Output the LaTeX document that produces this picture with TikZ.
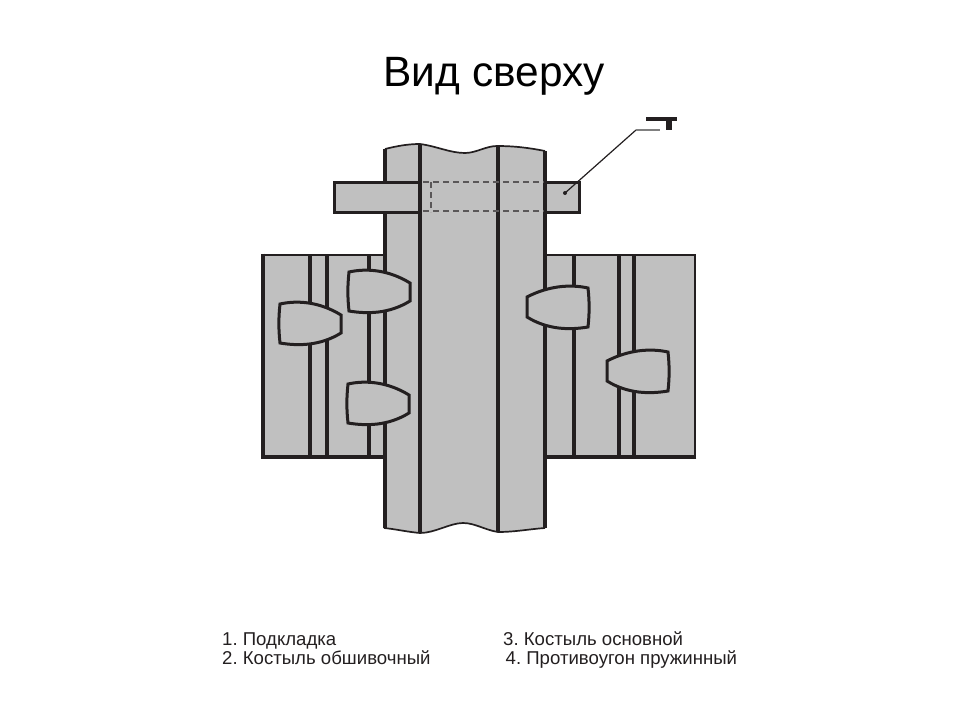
\documentclass[tikz,border=0pt]{standalone}
\usepackage{fontspec}
\setmainfont{Liberation Sans}
\definecolor{partgrey}{HTML}{C0C0C0}
\definecolor{ink}{HTML}{231F20}
\definecolor{leadgrey}{HTML}{808080}
\tikzset{
  rail/.style={draw=ink,line width=3.3pt},
  plate top/.style={draw=ink,line width=2.6pt},
  plate side/.style={draw=ink,line width=3.2pt},
  edge line/.style={draw=ink,line width=1.7pt},
  hidden/.style={draw=ink!75,line width=1.4pt,dash pattern=on 6pt off 4pt},
  spike/.style={fill=partgrey,draw=ink,line width=3pt,line join=miter},
  legend/.style={anchor=base west,inner sep=0pt,font=\fontsize{18.6}{22}\selectfont,text=ink},
  title/.style={anchor=base west,inner sep=0pt,font=\fontsize{42.4}{50}\selectfont,text=black}
}
\newcommand{\headR}[2]{\draw[spike,shift={(#1,#2)}] (0,0) .. controls (18,-4) and (40,-2) .. (61,11) -- (61,29) .. controls (40,42) and (18,42) .. (0,39) .. controls (-1.5,25) and (-1.5,14) .. (0,0) -- cycle;}
\newcommand{\headL}[2]{\draw[spike,shift={(#1,#2)}] (0,0) .. controls (-18,-4) and (-40,-2) .. (-61,9) -- (-61,29) .. controls (-40,42) and (-18,42) .. (0,39) .. controls (1.5,25) and (1.5,14) .. (0,0) -- cycle;}
\begin{document}
\begin{tikzpicture}[x=1pt,y=-1pt]
\useasboundingbox (0,0) rectangle (960,720);
\frenchspacing
\node[title] (heading) at (383.5,86) {Вид сверху};

% side plates
\fill[partgrey] (263,255) rectangle (384,457);
\fill[partgrey] (545,255) rectangle (695,457);
\draw[plate top] (384,255) -- (263,255);
\draw[plate side] (263,253.7) -- (263,458.6);
\draw[plate side] (261.4,457) -- (384,457);
\draw[plate top] (545,255) -- (695,255) -- (695,457);
\draw[plate side] (696.3,457) -- (545,457);
\foreach \x in {310,327,369,574,619,634} \draw[rail] (\x,255) -- (\x,457);

% main strip with wavy ends
\fill[partgrey] (385,149) .. controls (397,146) and (408,144) .. (420,144)
  .. controls (436,146) and (450,153) .. (465,153)
  .. controls (476,153) and (486,146) .. (497,146)
  .. controls (515,146) and (530,148) .. (545,151)
  -- (545,528) .. controls (530,529) and (515,532) .. (498,532)
  .. controls (485,530) and (475,523) .. (463,523)
  .. controls (450,523) and (435,533) .. (420,533)
  .. controls (408,532) and (395,529) .. (384,528) -- cycle;
\draw[edge line] (385,149) .. controls (397,146) and (408,144) .. (420,144)
  .. controls (436,146) and (450,153) .. (465,153)
  .. controls (476,153) and (486,146) .. (497,146)
  .. controls (515,146) and (530,148) .. (545,151);
\draw[edge line] (545,528) .. controls (530,529) and (515,532) .. (498,532)
  .. controls (485,530) and (475,523) .. (463,523)
  .. controls (450,523) and (435,533) .. (420,533)
  .. controls (408,532) and (395,529) .. (384,528);
\draw[rail] (385,149) -- (385,528);
\draw[rail] (545,151) -- (545,528);
\draw[rail] (420,144) -- (420,533);
\draw[rail] (498,146) -- (498,532);

% bar: solid ends and hidden middle
\fill[partgrey] (334,182) rectangle (420,212);
\draw[rail] (420,144) -- (420,533);
\draw[ink,line width=3pt] (420,182) -- (334,182) -- (334,212) -- (420,212);
\fill[partgrey] (545,182) rectangle (579,212);
\draw[ink,line width=3pt] (545,182) -- (579,182) -- (579,212) -- (545,212);
\draw[rail] (545,151) -- (545,528);
\draw[hidden] (423,182) -- (544,182);
\draw[hidden] (423,211) -- (544,211);
\draw[hidden] (431,182) -- (431,212);

% spikes
\headR{280}{304}
\headR{349}{272}
\headR{348}{384}
\headL{588}{288}
\headL{668}{352}

% leader with T symbol
\coordinate (tip) at (565,193);
\coordinate (knee) at (636,130);
\coordinate (leadend) at (660,130);
\fill[ink] (tip) circle (2pt);
\draw[ink,line width=1.2pt] (tip) -- (knee);
\draw[leadgrey,line width=1.6pt] (knee) -- (leadend);
\fill[ink] (646,117) rectangle (677,121);
\fill[ink] (666,117) rectangle (672,130);

% legend
\node[legend] (l1) at (222,645.5) {1. Подкладка};
\node[legend] (l2) at (222,664.5) {2. Костыль обшивочный};
\node[legend] (l3) at (503,645.5) {3. Костыль основной};
\node[legend] (l4) at (505.5,664.5) {4. Противоугон пружинный};
\end{tikzpicture}
\end{document}
